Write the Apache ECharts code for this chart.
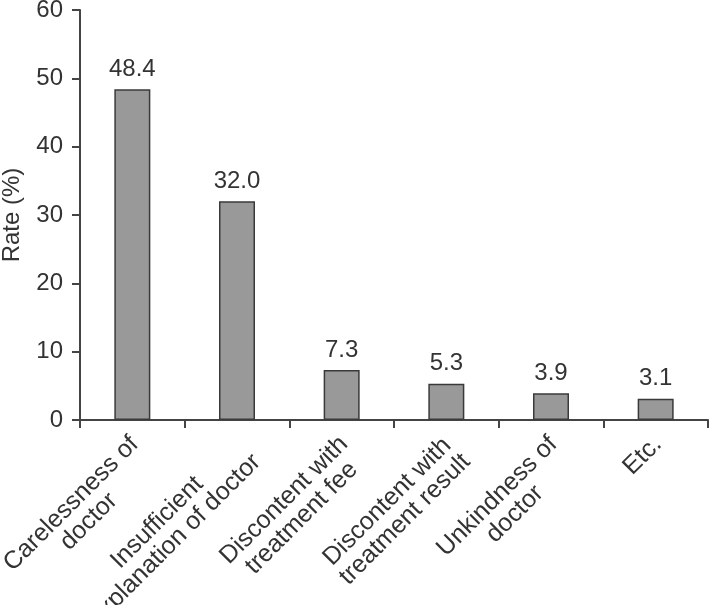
<!DOCTYPE html>
<html>
<head>
<meta charset="utf-8">
<script src="https://cdn.jsdelivr.net/npm/echarts@6/dist/echarts.min.js"></script>
<style>html,body{margin:0;padding:0;background:#fff;}#chart{width:709px;height:605px;}</style>
</head>
<body>
<div id="chart"></div>
<script>
var categories = [
  ['Carelessness of', 'doctor'],
  ['Insufficient', 'explanation of doctor'],
  ['Discontent with', 'treatment fee'],
  ['Discontent with', 'treatment result'],
  ['Unkindness of', 'doctor'],
  ['Etc.']
];
var values = [48.4, 32.0, 7.3, 5.3, 3.9, 3.1];
var valueLabels = ['48.4', '32.0', '7.3', '5.3', '3.9', '3.1'];
var yTicks = [0, 10, 20, 30, 40, 50, 60];

var FONT = 'Liberation Sans, Arial, sans-serif';
var FS = 24;
var CFS = 25;
var cvs = document.createElement('canvas').getContext('2d');
cvs.font = CFS + 'px ' + FONT;
var rich = {};
var catNames = categories.map(function (lines, i) {
  var w = Math.max.apply(null, lines.map(function (l) { return cvs.measureText(l).width; }));
  rich['c' + i] = { width: Math.ceil(w), align: 'center', fontSize: CFS, fontFamily: FONT, color: '#333', lineHeight: 25 };
  return lines.join('\n');
});

var chart = echarts.init(document.getElementById('chart'), null, { renderer: 'canvas' });
chart.setOption({
  animation: false,
  grid: { left: 80, right: 1, top: 10, bottom: 185, containLabel: false, outerBoundsMode: 'none' },
  xAxis: {
    type: 'category',
    data: catNames,
    axisLine: { lineStyle: { color: '#444', width: 2 } },
    axisTick: { show: true, length: 8, alignWithLabel: false, lineStyle: { color: '#444', width: 2 } },
    axisLabel: {
      interval: 0,
      rotate: 45,
      margin: 5,
      verticalAlign: 'top',
      padding: [0, 9, 0, 0],
      formatter: function (v, idx) {
        return v.split('\n').map(function (l) { return '{c' + idx + '|' + l + '}'; }).join('\n');
      },
      rich: rich
    }
  },
  yAxis: {
    type: 'value',
    min: 0, max: 60, interval: 10,
    name: 'Rate (%)',
    nameLocation: 'middle',
    nameGap: 56,
    nameTextStyle: { fontSize: FS, fontFamily: FONT, color: '#333' },
    axisLine: { show: true, lineStyle: { color: '#444', width: 2 } },
    axisTick: { show: true, length: 8, lineStyle: { color: '#444', width: 2 } },
    splitLine: { show: false },
    axisLabel: {
      fontSize: FS, fontFamily: FONT, color: '#333', margin: 17,
      formatter: function (v) { return yTicks.indexOf(v) >= 0 ? String(v) : ''; }
    }
  },
  series: [{
    type: 'bar',
    data: values,
    barWidth: '34.4%',
    itemStyle: { color: '#999999', borderColor: '#3a3a3a', borderWidth: 1.5 },
    label: {
      show: true, position: 'top', distance: 8,
      fontSize: FS, fontFamily: FONT, color: '#333',
      formatter: function (p) { return valueLabels[p.dataIndex]; }
    }
  }]
});
</script>
</body>
</html>
